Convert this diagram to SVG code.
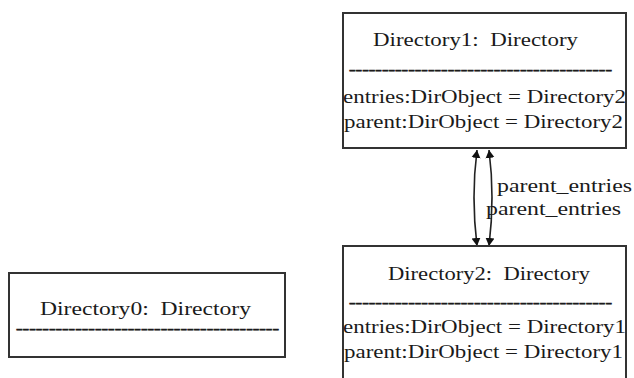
<svg xmlns="http://www.w3.org/2000/svg" width="634" height="378" viewBox="0 0 634 378">
<defs>
<style>
.box{fill:#fff;stroke:#333;stroke-width:2}
.t{font-family:"Liberation Serif","Times New Roman",serif;font-size:19.5px;fill:#1a1a1a;white-space:pre}
.d{font-size:14px;stroke:#1a1a1a;stroke-width:0.6}
.c{fill:none;stroke:#222;stroke-width:1.6}
</style>
<marker id="ah" viewBox="0 0 8 12" refX="8" refY="6" markerWidth="8" markerHeight="12" markerUnits="userSpaceOnUse" orient="auto-start-reverse">
<path d="M0,1.5 L8,6 L0,10.5 Z" fill="#111"/>
</marker>
</defs>
<rect width="634" height="378" fill="#fff"/>
<g id="connectors">
<path class="c" d="M477,150 Q471,197 477,246" marker-start="url(#ah)" marker-end="url(#ah)"/>
<path class="c" d="M489,150 Q495,197 489,246" marker-start="url(#ah)" marker-end="url(#ah)"/>
<text class="t" x="497" y="192" textLength="135" lengthAdjust="spacingAndGlyphs">parent_entries</text>
<text class="t" x="486" y="215" textLength="135" lengthAdjust="spacingAndGlyphs">parent_entries</text>
</g>
<g id="Directory1">
<rect class="box" x="343" y="13" width="283" height="135"/>
<text class="t" x="373" y="46" textLength="205" lengthAdjust="spacingAndGlyphs">Directory1:  Directory</text>
<text class="t d" x="349" y="73.5" textLength="263" lengthAdjust="spacingAndGlyphs">----------------------------------------</text>
<text class="t" x="343" y="103" textLength="283" lengthAdjust="spacingAndGlyphs">entries:DirObject = Directory2</text>
<text class="t" x="344" y="128" textLength="279" lengthAdjust="spacingAndGlyphs">parent:DirObject = Directory2</text>
</g>
<g id="Directory2">
<rect class="box" x="343" y="246" width="283" height="140"/>
<text class="t" x="388" y="280" textLength="202" lengthAdjust="spacingAndGlyphs">Directory2:  Directory</text>
<text class="t d" x="349" y="306.5" textLength="263" lengthAdjust="spacingAndGlyphs">----------------------------------------</text>
<text class="t" x="343" y="333" textLength="283" lengthAdjust="spacingAndGlyphs">entries:DirObject = Directory1</text>
<text class="t" x="344" y="358" textLength="279" lengthAdjust="spacingAndGlyphs">parent:DirObject = Directory1</text>
</g>
<g id="Directory0">
<rect class="box" x="9" y="273" width="276" height="84"/>
<text class="t" x="40" y="315" textLength="211" lengthAdjust="spacingAndGlyphs">Directory0:  Directory</text>
<text class="t d" x="16" y="332.5" textLength="263" lengthAdjust="spacingAndGlyphs">----------------------------------------</text>
</g>
</svg>
